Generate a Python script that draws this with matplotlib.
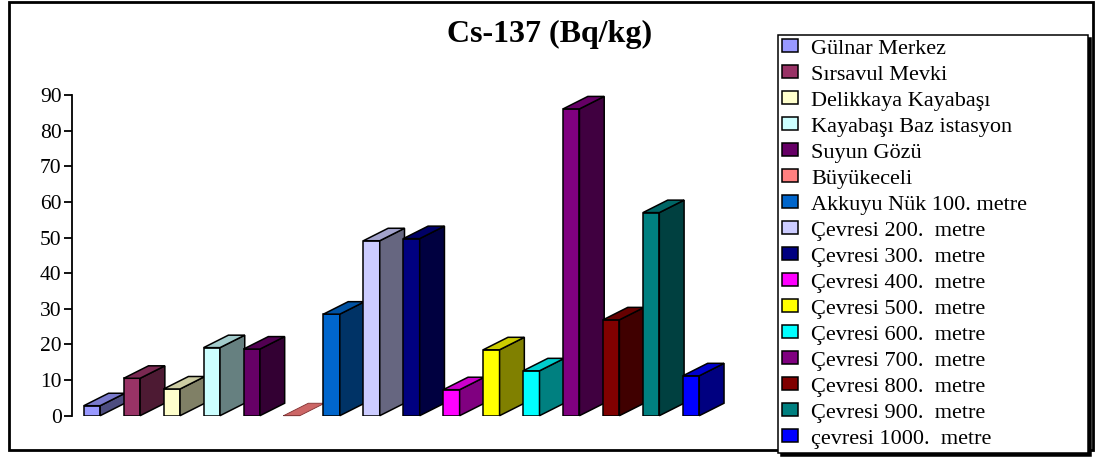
import matplotlib
matplotlib.use("Agg")
import matplotlib.pyplot as plt
from matplotlib.patches import Polygon, Rectangle
import matplotlib.colors as mcolors
import numpy as np

labels = ["Gülnar Merkez", "Sırsavul Mevki", "Delikkaya Kayabaşı",
          "Kayabaşı Baz istasyon", "Suyun Gözü", "Büyükeceli",
          "Akkuyu Nük 100. metre", "Çevresi 200.  metre", "Çevresi 300.  metre",
          "Çevresi 400.  metre", "Çevresi 500.  metre", "Çevresi 600.  metre",
          "Çevresi 700.  metre", "Çevresi 800.  metre", "Çevresi 900.  metre",
          "çevresi 1000.  metre"]
values = [2.8, 10.5, 7.5, 19.1, 18.7, 0.0, 28.5, 49.1, 49.7, 7.3, 18.5, 12.6,
          86.1, 26.9, 57.0, 11.2]
colors = ["#9999FF", "#993366", "#FFFFCC", "#CCFFFF", "#660066", "#FF8080",
          "#0066CC", "#CCCCFF", "#000080", "#FF00FF", "#FFFF00", "#00FFFF",
          "#800080", "#800000", "#008080", "#0000FF"]
yticks = [0, 10, 20, 30, 40, 50, 60, 70, 80, 90]
title = "Cs-137 (Bq/kg)"

W, H = 1097, 457
fig = plt.figure(figsize=(W / 100, H / 100), dpi=100)
serif = ["Liberation Serif", "DejaVu Serif"]

ax = fig.add_axes([72 / W, (H - 415.7) / H, (745 - 72) / W, (415.7 - 95) / H])
ax.set_facecolor("none")

x = np.arange(len(values))
bw = 0.41
dx = 0.62
dy = 3.5

bars = ax.bar(x, values, width=bw, color=colors, edgecolor="black",
              linewidth=1.1)
for i, (rect, v, c) in enumerate(zip(bars, values, colors)):
    z = 3 + i
    rect.set_zorder(z)
    rgb = np.array(mcolors.to_rgb(c))
    side_c = rgb * 0.5
    top_c = rgb * 0.8
    xl = x[i] - bw / 2
    xr = x[i] + bw / 2
    if v > 0:
        side = Polygon([(xr, 0), (xr + dx, dy), (xr + dx, v + dy), (xr, v)],
                       closed=True, facecolor=side_c, edgecolor="black",
                       linewidth=1.1, zorder=z + 0.5, clip_on=False)
        ax.add_patch(side)
    top = Polygon([(xl, v), (xr, v), (xr + dx, v + dy), (xl + dx, v + dy)],
                  closed=True, facecolor=top_c,
                  edgecolor="black" if v > 0 else "#803030",
                  linewidth=1.1 if v > 0 else 0.6, zorder=z + 0.5, clip_on=False)
    ax.add_patch(top)

ax.set_xlim(-0.5, 16.35)
ax.set_ylim(0, 90)
ax.set_yticks(yticks)
ax.set_yticklabels([str(t) for t in yticks], fontfamily=serif, fontsize=15.5)
ax.set_xticks([])
for s in ["top", "right", "bottom"]:
    ax.spines[s].set_visible(False)
ax.spines["left"].set_linewidth(1.3)
ax.tick_params(axis="y", direction="out", length=5.5, width=1.3, pad=2)

fig.text(550 / W, 1 - 34 / H, title, ha="center", va="center",
         fontfamily=serif, fontsize=23, fontweight="bold")

# outer frame
frame = Rectangle((9 / W, (H - 450) / H), (1093 - 9) / W, (450 - 2) / H,
                  transform=fig.transFigure, fill=False, edgecolor="black",
                  linewidth=2, zorder=0)
fig.patches.append(frame)

handles = [Rectangle((0, 0), 1, 1, facecolor=c, edgecolor="black", linewidth=1.1)
           for c in colors]
leg = fig.legend(handles, labels, loc="upper left",
                 bbox_to_anchor=(778 / W, 1 - 35 / H, (1088 - 778) / W, 0.0),
                 mode="expand", prop={"family": serif, "size": 16},
                 frameon=True, fancybox=False, edgecolor="black",
                 borderpad=0.2, labelspacing=0.305, handlelength=0.7,
                 handleheight=0.5, handletextpad=0.6, borderaxespad=0,
                 shadow={"color": "black", "alpha": 1})
leg.get_frame().set_linewidth(1.1)

fig.savefig("out.png", dpi=100)
